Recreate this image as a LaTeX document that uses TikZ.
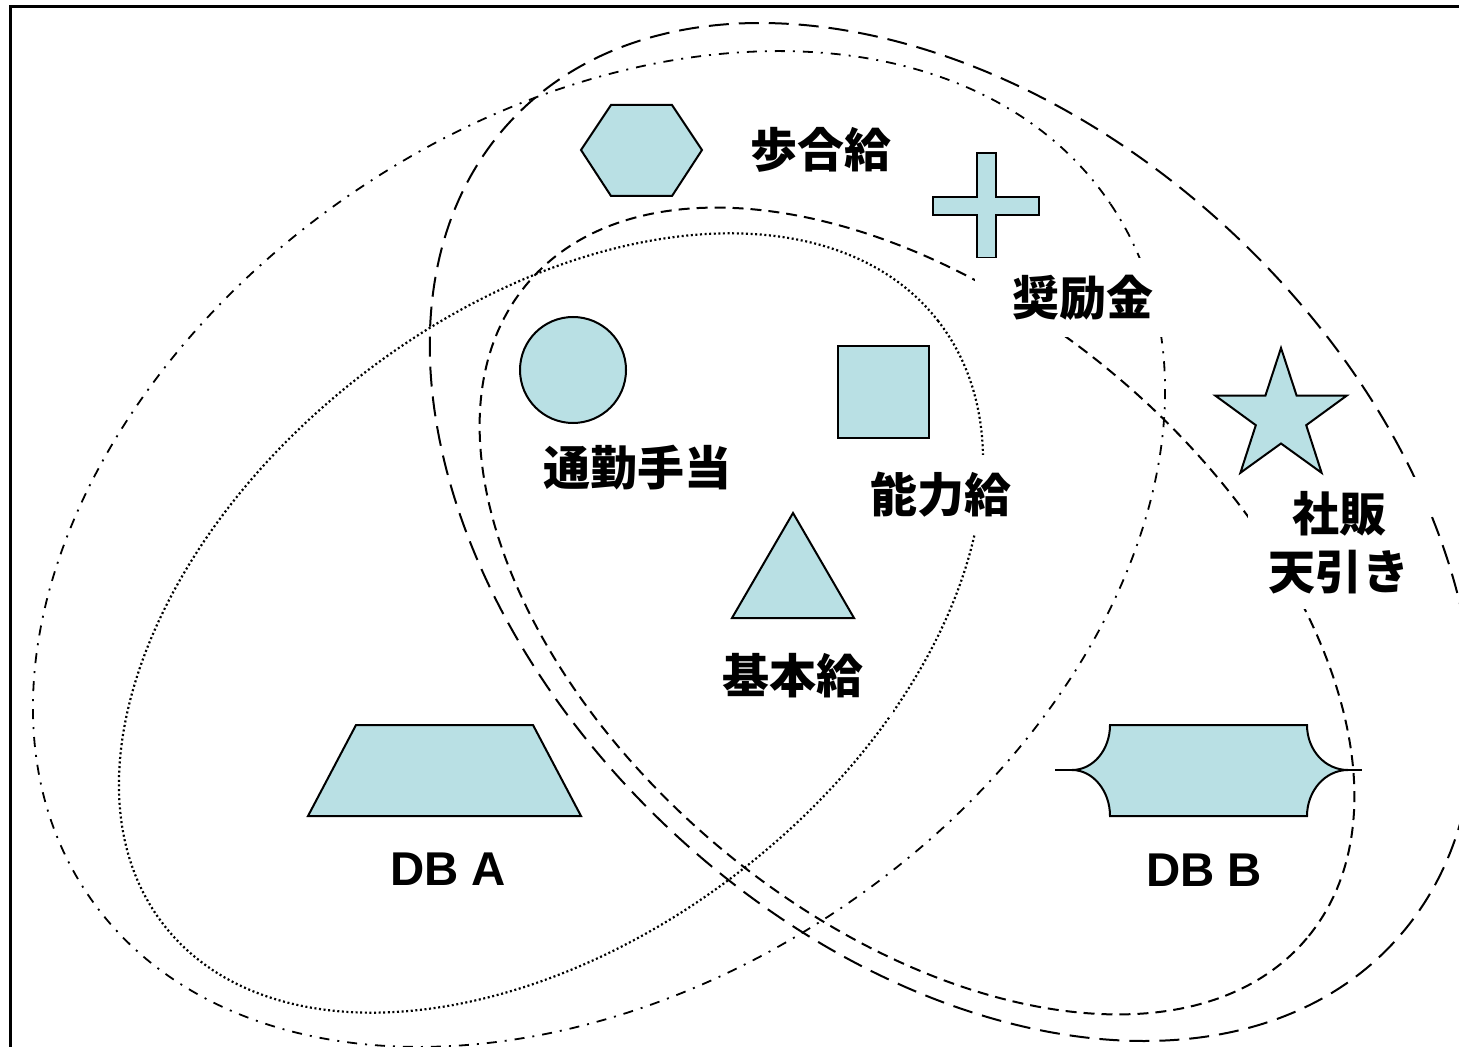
\documentclass[tikz,border=0pt]{standalone}
\usepackage{fontspec}
\setmainfont{Liberation Sans}
\newfontfamily\cjk{Noto Sans CJK JP}
\definecolor{shapefill}{RGB}{185,224,228}
\begin{document}
\begin{tikzpicture}[x=0.5pt,y=-0.5pt,
  longdash/.style={line width=1pt, dash pattern=on 10pt off 5pt},
  shortdash/.style={line width=1pt, dash pattern=on 5.5pt off 3.5pt},
  dashdot/.style={line width=0.9pt, dash pattern=on 5pt off 4pt on 1pt off 4pt},
  dotline/.style={line width=1.1pt, dash pattern=on 1pt off 1.3pt},
  shp/.style={draw=black, line width=1pt, fill=shapefill},
  lbl/.style={fill=white, inner sep=0pt, align=center,
    font=\cjk\bfseries\fontsize{23.5}{29}\selectfont},
  lbllat/.style={fill=white, inner sep=0pt,
    font=\bfseries\fontsize{23.7}{29}\selectfont}]
\clip (0,0) rectangle (1459,1047);
\fill[white] (0,0) rectangle (1459,1047);
% frame
\draw[line width=1.5pt] (10,1100) -- (10,7) -- (1500,7);
% ellipses
\begin{scope}[shift={(952,532)},rotate=-43]
  \draw[longdash] (0,0) ellipse [x radius=603, y radius=410];
\end{scope}
\begin{scope}[shift={(599,549)},rotate=34]
  \draw[dashdot] (0,0) ellipse [x radius=617, y radius=433];
\end{scope}
\begin{scope}[shift={(917,611)},rotate=-40]
  \draw[shortdash] (0,0) ellipse [x radius=509, y radius=308];
\end{scope}
\begin{scope}[shift={(551,623)},rotate=38]
  \draw[dotline] (0,0) ellipse [x radius=491, y radius=312];
\end{scope}
% shapes
\draw[shp] (581,150) -- (611,105) -- (672,105) -- (702,150) -- (672,196) -- (611,196) -- cycle;
\draw[shp] (977,153) -- (996,153) -- (996,197) -- (1039,197) -- (1039,215) -- (996,215) -- (996,258) -- (977,258) -- (977,215) -- (933,215) -- (933,197) -- (977,197) -- cycle;
\draw[shp] (573,370) circle [radius=53];
\draw[shp] (838,346) rectangle (929,438);
\draw[shp] (1281,348) -- (1296.6,395.6) -- (1346.6,395.7) -- (1306.2,425.2) -- (1321.6,472.8) -- (1281,443.5) -- (1240.4,472.8) -- (1255.8,425.2) -- (1215.4,395.7) -- (1265.4,395.6) -- cycle;
\draw[shp] (793,513) -- (854,618) -- (732,618) -- cycle;
\draw[shp] (308,816) -- (356,725) -- (533,725) -- (581,816) -- cycle;
\draw[shp] (1110,725) -- (1307,725) .. controls (1307,750) and (1325,770) .. (1348,770)
  .. controls (1325,770) and (1307,791) .. (1307,816) -- (1110,816)
  .. controls (1110,791) and (1093,770) .. (1072,770)
  .. controls (1093,770) and (1110,750) .. (1110,725) -- cycle;
\draw[line width=1pt] (1055,770) -- (1072,770);
\draw[line width=1pt] (1348,770) -- (1362,770);
% labels
\node[lbl, minimum width=90pt, minimum height=40pt] (buai) at (821,150) {歩合給};
\node[lbl, minimum width=108pt, minimum height=39.5pt] (shorei) at (1083,298) {奨励金};
\node[lbl, minimum width=112pt, minimum height=40pt] (tsukin) at (637,468) {通勤手当};
\node[lbl, minimum width=90pt, minimum height=40pt] (noryoku) at (941,495) {能力給};
\node[lbl, minimum width=100pt, minimum height=40pt] (kihon) at (793,676) {基本給};
\node[lbl, minimum width=91pt, minimum height=66pt] (shahan) at (1339,543) {社販\\天引き};
\node[lbllat, minimum width=80pt, minimum height=35pt] (dba) at (448,869) {DB A};
\node[lbllat, minimum width=75pt, minimum height=35pt] (dbb) at (1204,870) {DB B};
\end{tikzpicture}
\end{document}
